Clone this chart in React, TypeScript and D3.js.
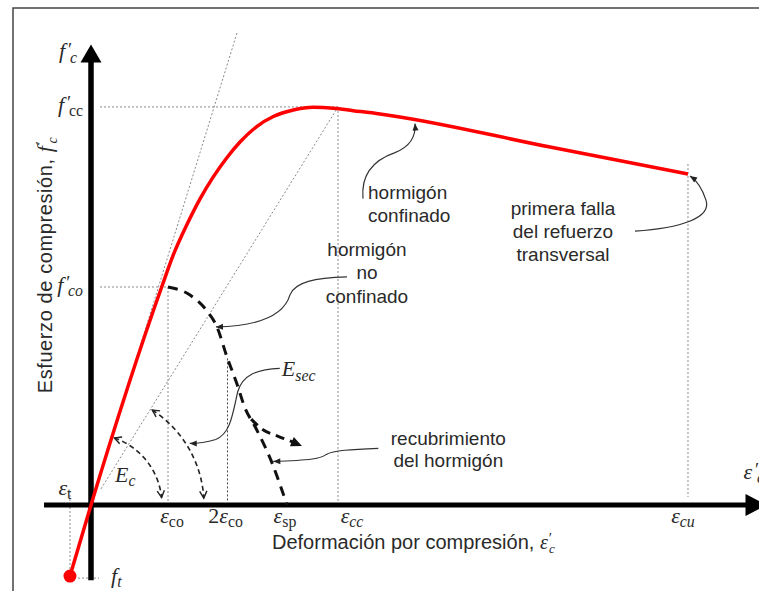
import React from "react";
import * as d3 from "d3";

// Strain is expressed as ε/εco and stress as f/f'co.
const confinedStrain = [-0.273, 0, 0.918, 1.069, 1.243, 1.416, 1.588, 1.762, 1.935, 2.152, 2.368, 2.628, 2.887, 3.147, 3.406, 3.753, 5.961, 7.753];
const confinedStress = [-0.326, 0, 1.0, 1.147, 1.284, 1.404, 1.505, 1.592, 1.665, 1.736, 1.782, 1.812, 1.824, 1.82, 1.809, 1.794, 1.642, 1.518];

// Unconfined (cover) concrete: peak at (εco, f'co), spalling at εsp.
const coverStrain = [1.0, 1.286, 1.506, 1.636, 1.766, 1.896, 2.0, 2.13, 2.351, 2.545];
const coverStress = [1.0, 0.963, 0.89, 0.817, 0.679, 0.555, 0.445, 0.36, 0.193, 0];

// Descending branch that continues past the spalling split.
const tailStrain = [2.08, 2.234, 2.416, 2.584, 2.74];
const tailStress = [0.394, 0.345, 0.317, 0.294, 0.271];

// Strain marks on the horizontal axis.
const xTickPrefix = ["", "2", "", "", ""];
const xTickSub = ["co", "co", "sp", "cc", "cu"];
const xTickValues = [1.0, 1.773, 2.545, 3.208, 7.753];
const xTickNudge = [4, -2, -2, 14, -5];

// Reference stresses and strains.
const fco = 1.0;
const fcc = 1.826;
const ecc = 3.208;
const ecu = 7.753;
const twoEco = 1.773;
const strainT = -0.273;
const stressT = -0.326;

// Initial tangent (Ec) and secant (Esec) reference lines.
const tangentEnd: [number, number] = [1.896, 2.165];
const secantStart = 0.13;

const SANS = "'Liberation Sans', Arial, sans-serif";
const SERIF = "'Liberation Serif', 'Times New Roman', serif";
const TEXT = "#2a2a2a";
const GUIDE = "#8a8a8a";

function MathText(props: {
  x: number; y: number; base: string; sub?: string; prime?: boolean; pre?: string;
  anchor?: "start" | "middle" | "end"; size?: number; subItalic?: boolean;
}) {
  const { x, y, base, sub, prime, pre, anchor = "start", size = 22, subItalic = false } = props;
  const s = size * 0.72;
  const primeRise = size * 0.12;
  const subDrop = size * 0.2;
  return (
    <text x={x} y={y} textAnchor={anchor} fontFamily={SERIF} fontSize={size} fill={TEXT}>
      {pre ? <tspan>{pre}</tspan> : null}
      <tspan fontStyle="italic">{base}</tspan>
      {prime ? (
        <tspan fontSize={size * 0.85} dx={size * 0.13} dy={-primeRise}>′</tspan>
      ) : null}
      {sub ? (
        <tspan
          fontSize={s}
          fontStyle={subItalic ? "italic" : "normal"}
          dx={prime ? -size * 0.1 : 0}
          dy={(prime ? primeRise : 0) + subDrop}
        >
          {sub}
        </tspan>
      ) : null}
    </text>
  );
}

export default function App() {
  const W = 759;
  const H = 591;

  const x = d3.scaleLinear().domain([0, 1]).range([91, 168]);
  const y = d3.scaleLinear().domain([0, 1]).range([505, 287]);

  const zip = (a: number[], b: number[]) => a.map((v, i) => [v, b[i]] as [number, number]);
  const curve = d3
    .line<[number, number]>()
    .x((d) => x(d[0]))
    .y((d) => y(d[1]))
    .curve(d3.curveMonotoneX);
  const straight = d3
    .line<[number, number]>()
    .x((d) => x(d[0]))
    .y((d) => y(d[1]));

  const confinedAt = d3.scaleLinear().domain(confinedStrain).range(confinedStress);
  const coverAt = d3.scaleLinear().domain(coverStrain).range(coverStress);
  const coverStrainAt = d3.scaleLinear().domain([...coverStress].reverse()).range([...coverStrain].reverse());

  const ox = x(0);
  const oy = y(0);

  // Angles of the Ec and Esec reference lines, measured on screen.
  const angTangent = Math.atan2(oy - y(tangentEnd[1]), x(tangentEnd[0]) - ox);
  const angSecant = Math.atan2(oy - y(fcc), x(ecc) - ox);
  const arcPath = (r: number, a0: number, a1: number) => {
    const pts = d3.range(0, 41).map((i) => {
      const a = a0 + ((a1 - a0) * i) / 40;
      return [ox + r * Math.cos(a), oy - r * Math.sin(a)] as [number, number];
    });
    return d3.line()(pts) as string;
  };
  const deg = Math.PI / 180;
  const rEc = 71;
  const rSec = 113;

  // Callout anchors
  const tConf = { x: x(4.2) + 0.6, y: y(confinedAt(4.2)) + 2 };
  const tFail = { x: x(ecu), y: y(confinedAt(ecu)) };
  const tUnc = { x: x(1.636), y: y(coverAt(1.636)) };
  const secA = 33 * deg;
  const tSec = { x: ox + rSec * Math.cos(secA), y: oy - rSec * Math.sin(secA) };
  const coverS = coverStrainAt(0.2);
  const tCov = { x: x(coverS), y: y(0.2) };

  const axisLeft = x(-0.61);
  const axisArrowBase = x(8.5);
  const yAxisBottom = y(-0.345);
  const yArrowBase = y(2.03);

  return (
    <svg
      width={W}
      height={H}
      viewBox={`0 0 ${W} ${H}`}
      style={{ position: "absolute", left: 0, top: 0, background: "#fff" }}
    >
      <defs>
        <marker id="open" viewBox="-9 -5 11 10" refX={0} refY={0} markerWidth={11} markerHeight={10} markerUnits="userSpaceOnUse" orient="auto-start-reverse">
          <path d="M-7,-3.6 L0,0 L-7,3.6" fill="none" stroke="#222" strokeWidth={1.4} />
        </marker>
        <marker id="tri" viewBox="-13 -7 15 14" refX={0} refY={0} markerWidth={15} markerHeight={14} markerUnits="userSpaceOnUse" orient="auto">
          <path d="M-11,-5 L0,0 L-11,5 Z" fill="#111" />
        </marker>
        <marker id="call" viewBox="-9 -5 11 10" refX={0} refY={0} markerWidth={11} markerHeight={10} markerUnits="userSpaceOnUse" orient="auto">
          <path d="M-7,-3 L0,0 L-7,3 Z" fill="#222" />
        </marker>
      </defs>

      {/* frame */}
      <path d={`M13,${H} L13,8 L${W},8`} fill="none" stroke="#444" strokeWidth={1.5} />

      {/* reference guides */}
      <g stroke={GUIDE} strokeWidth={1} strokeDasharray="2,2" fill="none">
        <line x1={ox + 9} x2={x(ecc)} y1={y(fcc)} y2={y(fcc)} />
        <line x1={ox + 9} x2={x(1)} y1={y(fco)} y2={y(fco)} />
        <line x1={x(1)} x2={x(1)} y1={y(fco)} y2={oy - 4} />
        <line x1={x(ecc)} x2={x(ecc)} y1={y(fcc)} y2={oy - 4} />
        <line x1={x(ecu)} x2={x(ecu)} y1={y(confinedAt(ecu)) - 10} y2={oy - 8} />
        <line x1={x(strainT)} x2={x(strainT)} y1={oy - 14} y2={y(stressT)} />
        <line x1={x(strainT)} x2={ox + 8} y1={y(stressT) + 2} y2={y(stressT) + 2} />
        <path d={straight([[0, 0], tangentEnd]) as string} />
        <path d={straight([[secantStart, (secantStart * fcc) / ecc], [ecc, fcc]]) as string} />
      </g>
      <line x1={x(twoEco)} x2={x(twoEco)} y1={y(coverAt(twoEco))} y2={oy - 3} stroke="#444" strokeWidth={1} strokeDasharray="2,2" />

      {/* axes */}
      <line x1={axisLeft} x2={axisArrowBase + 2} y1={oy} y2={oy} stroke="#000" strokeWidth={5} />
      <path d={`M${axisArrowBase},${oy - 11} L${axisArrowBase + 21},${oy} L${axisArrowBase},${oy + 11} Z`} fill="#000" />
      <line x1={ox} x2={ox} y1={yAxisBottom} y2={yArrowBase - 2} stroke="#000" strokeWidth={5.5} />
      <path d={`M${ox - 10.5},${yArrowBase} L${ox},${yArrowBase - 18} L${ox + 10.5},${yArrowBase} Z`} fill="#000" />

      {/* Ec and Esec arcs */}
      <g fill="none" stroke="#222" strokeWidth={1.6} strokeDasharray="5,3.5">
        <path d={arcPath(rEc, angTangent - 2 * deg, 6 * deg)} markerStart="url(#open)" markerEnd="url(#open)" />
        <path d={arcPath(rSec, angSecant - 1 * deg, 3.5 * deg)} markerStart="url(#open)" markerEnd="url(#open)" />
      </g>

      {/* unconfined concrete */}
      <path d={curve(zip(coverStrain, coverStress)) as string} fill="none" stroke="#111" strokeWidth={3} strokeDasharray="10,7" />
      <path d={curve(zip(tailStrain, tailStress)) as string} fill="none" stroke="#111" strokeWidth={3} strokeDasharray="9,6" markerEnd="url(#tri)" />

      {/* confined concrete */}
      <path d={curve(zip(confinedStrain, confinedStress)) as string} fill="none" stroke="#ff0000" strokeWidth={3.5} strokeLinejoin="round" />
      <circle cx={x(strainT)} cy={y(stressT)} r={6.5} fill="#ff0000" />

      {/* callouts */}
      <g fill="none" stroke="#333" strokeWidth={1.2}>
        <path transform={`translate(${tConf.x},${tConf.y})`} d="M-52,76 C-54,54 -43,38 -20,30 C-5,24 1,14 0,1" markerEnd="url(#call)" />
        <path transform={`translate(${tFail.x},${tFail.y})`} d="M-53,57 C-8,54 24,44 18,26 C14,14 8,6 2,2" markerEnd="url(#call)" />
        <path transform={`translate(${tUnc.x},${tUnc.y})`} d="M130,-50 C98,-49 78,-45 73,-32 C68,-15 48,-1 -1,0" markerEnd="url(#call)" />
        <path transform={`translate(${tSec.x},${tSec.y})`} d="M94,-75 C70,-74 57,-68 52,-52 C47,-30 45,-10 30,-4 C20,-1 12,0 4,0" markerEnd="url(#call)" />
        <path transform={`translate(${tCov.x},${tCov.y})`} d="M107,-13 C80,-12 62,-11 55,-7 C50,-3 40,-1 2,0" markerEnd="url(#call)" />
      </g>

      <g fontFamily={SANS} fontSize={19} fill={TEXT}>
        <text x={tConf.x - 47} y={tConf.y + 76}>hormigón</text>
        <text x={tConf.x - 47} y={tConf.y + 99}>confinado</text>
        <g textAnchor="middle">
          <text x={tUnc.x + 150} y={tUnc.y - 71}>hormigón</text>
          <text x={tUnc.x + 150} y={tUnc.y - 47.5}>no</text>
          <text x={tUnc.x + 150} y={tUnc.y - 24}>confinado</text>
          <text x={tFail.x - 125} y={tFail.y + 41}>primera falla</text>
          <text x={tFail.x - 125} y={tFail.y + 64}>del refuerzo</text>
          <text x={tFail.x - 125} y={tFail.y + 87}>transversal</text>
          <text x={tCov.x + 177} y={tCov.y - 16}>recubrimiento</text>
          <text x={tCov.x + 177} y={tCov.y + 6}>del hormigón</text>
        </g>
      </g>

      {/* math labels */}
      <MathText x={tSec.x + 96} y={tSec.y - 67} base="E" sub="sec" subItalic />
      <MathText x={ox + 24} y={oy - 23} base="E" sub="c" subItalic />
      <MathText x={x(strainT) - 5} y={oy - 10} base="ε" sub="t" anchor="middle" />
      <MathText x={ox + 20} y={y(stressT) + 7} base="f" sub="t" subItalic />
      <MathText x={ox - 8} y={y(fcc) + 5} base="f" prime sub="cc" anchor="end" />
      <MathText x={ox - 8} y={y(fco) + 5} base="f" prime sub="co" anchor="end" subItalic />
      <MathText x={ox - 14} y={yArrowBase - 4} base="f" prime sub="c" anchor="end" subItalic />
      <MathText x={axisArrowBase - 2} y={oy - 26} base="ε" prime sub="c" subItalic />
      {xTickValues.map((v, i) => (
        <MathText key={i} x={x(v) + xTickNudge[i]} y={oy + 18} pre={xTickPrefix[i]} base="ε" sub={xTickSub[i]} anchor="middle" subItalic={i >= 3} />
      ))}

      {/* axis titles */}
      <text x={272} y={oy + 44} fontFamily={SANS} fontSize={20} fill={TEXT}>
        Deformación por compresión,{" "}
        <tspan fontFamily={SERIF} fontStyle="italic" fontSize={20}>ε</tspan>
        <tspan fontFamily={SERIF} fontSize={15} dx={1} dy={-6}>′</tspan>
        <tspan fontFamily={SERIF} fontStyle="italic" fontSize={13} dx={-3} dy={10}>c</tspan>
      </text>
      <text transform={`translate(52,265) rotate(-90)`} textAnchor="middle" fontFamily={SANS} fontSize={20} letterSpacing={0.6} fill={TEXT}>
        Esfuerzo de compresión,{"  "}
        <tspan fontFamily={SERIF} fontStyle="italic" fontSize={22}>f</tspan>
        <tspan fontFamily={SERIF} fontSize={15} dx={1} dy={-6}>′</tspan>
        <tspan fontFamily={SERIF} fontStyle="italic" fontSize={14} dx={-3} dy={11}>c</tspan>
      </text>
    </svg>
  );
}
